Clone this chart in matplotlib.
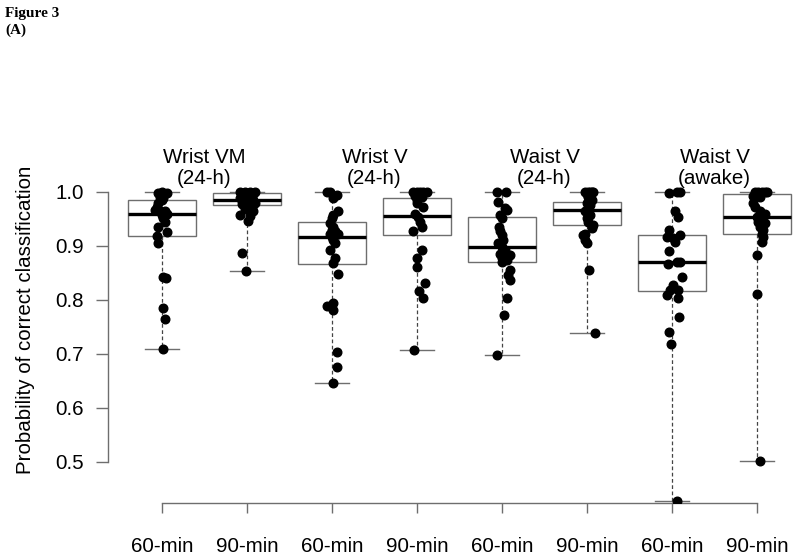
import matplotlib
matplotlib.use("Agg")
import matplotlib.pyplot as plt

# group labels
tick_labels = ["60-min", "90-min"] * 4
panel_titles = ["Wrist VM\n(24-h)", "Wrist V\n(24-h)", "Waist V\n(24-h)", "Waist V\n(awake)"]

# box statistics (R style hinges)
box_lo = [0.709, 0.854, 0.647, 0.707, 0.698, 0.739, 0.428, 0.501]
box_q1 = [0.919, 0.975, 0.866, 0.921, 0.871, 0.939, 0.817, 0.922]
box_med = [0.959, 0.986, 0.916, 0.955, 0.899, 0.967, 0.871, 0.954]
box_q3 = [0.985, 0.998, 0.944, 0.989, 0.953, 0.982, 0.920, 0.996]
box_hi = [1.0, 1.0, 1.0, 1.0, 1.0, 1.0, 1.0, 1.0]

# individual subjects (value, horizontal jitter)
g1_vals = [1.0, .998, .998, .994, .991, .988, .985, .979, .973, .967, .964, .964, .960,
           .957, .951, .945, .936, .925, .919, .905, .843, .841, .786, .764, .709]
g1_jit = [-.004, -.043, .055, .016, -.02, .016, -.004, -.043, -.06, -.08, -.02, .035, .055,
          -.004, .016, .035, -.043, .055, -.06, -.043, .008, .05, .016, .035, .016]
g2_vals = [1.0, 1.0, 1.0, 1.0, .998, .996, .996, .993, .99, .988, .986, .986, .984,
           .982, .98, .978, .976, .972, .968, .965, .958, .955, .946, .887, .854]
g2_jit = [-.082, -.024, .035, .094, -.063, -.004, .075, -.043, .035, -.082, -.004, .075, -.043,
          .035, .094, -.063, .016, .055, -.024, .075, -.082, .035, .016, -.063, -.012]
g3_vals = [1.0, 1.0, .994, .988, .964, .957, .951, .942, .936, .930, .927, .923, .923,
           .917, .911, .905, .893, .877, .868, .849, .794, .788, .781, .704, .676, .647]
g3_jit = [-.063, -.024, .055, .016, .075, .016, -.004, -.024, .016, -.004, .035, -.024, .075,
          -.004, .016, .035, -.024, .035, .016, .075, .016, -.063, .016, .055, .055, .016]
g4_vals = [1.0, 1.0, 1.0, 1.0, 1.0, .996, .993, .99, .985, .979, .973, .960,
           .954, .945, .936, .927, .893, .877, .861, .832, .817, .803, .707]
g4_jit = [-.043, -.004, .035, .075, .114, .016, -.024, .055, -.004, -.004, .075, -.024,
          .016, .035, .055, -.043, .055, -.004, -.004, .094, .027, .075, -.031]
g5_vals = [1.0, 1.0, .982, .970, .967, .957, .951, .936, .927, .920, .911, .905, .899,
           .893, .886, .883, .877, .874, .871, .856, .846, .837, .804, .772, .698]
g5_jit = [-.063, .047, -.051, .035, .055, -.024, -.004, -.031, -.024, -.004, .008, -.043, -.004,
          .035, -.024, .094, -.004, .055, -.004, .094, .075, .094, .063, .024, -.063]
g6_vals = [1.0, 1.0, 1.0, 1.0, 1.0, .996, .993, .99, .985, .979, .975, .970, .964,
           .957, .951, .945, .939, .933, .923, .920, .911, .905, .856, .739]
g6_jit = [-.024, .016, .055, .075, .035, -.004, .035, .016, .055, -.004, .035, .016, -.024,
          .035, -.004, .016, .075, .055, -.024, -.043, -.024, -.004, .027, .094]
g7_vals = [.998, 1.0, 1.0, .964, .953, .930, .920, .917, .914, .908, .891, .871,
           .871, .866, .842, .828, .819, .819, .809, .803, .769, .741, .719, .428]
g7_jit = [-.031, .055, .094, .035, .075, -.031, .094, -.055, .016, .035, -.031, .055,
          .094, -.043, .114, .016, -.024, .075, -.055, .075, .086, -.031, -.016, .055]
g8_vals = [1.0, 1.0, 1.0, 1.0, 1.0, .996, .993, .99, .979, .973, .964, .960,
           .954, .951, .945, .942, .936, .930, .923, .917, .908, .883, .812, .501]
g8_jit = [-.024, .016, .055, .094, .114, -.004, -.043, .035, -.043, -.024, .035, .094,
          -.004, .055, .016, .094, .035, .075, .055, .075, .055, -.004, .004, .035]

groups_vals = [g1_vals, g2_vals, g3_vals, g4_vals, g5_vals, g6_vals, g7_vals, g8_vals]
groups_jit = [g1_jit, g2_jit, g3_jit, g4_jit, g5_jit, g6_jit, g7_jit, g8_jit]

plt.rcParams["font.family"] = ["Liberation Sans", "DejaVu Sans"]
FS = 14.8
GRAY = "#6e6e6e"

fig = plt.figure(figsize=(8, 5.58), dpi=100)
# axes placed so the R-like layout lines up: y spine at x=108px, x spine at y=503px
ax = fig.add_axes([108 / 800, 55 / 558, 691.5 / 800, 338 / 558])

positions = list(range(1, 9))
stats = []
for i in range(8):
    stats.append(dict(med=box_med[i], q1=box_q1[i], q3=box_q3[i],
                      whislo=box_lo[i], whishi=box_hi[i], fliers=[]))

ax.bxp(stats, positions=positions, widths=0.8, showfliers=False, patch_artist=True,
       boxprops=dict(facecolor="white", edgecolor=GRAY, linewidth=1.0),
       medianprops=dict(color="black", linewidth=2.4),
       whiskerprops=dict(color="#444444", linewidth=0.9, linestyle=(0, (3, 2))),
       capprops=dict(color=GRAY, linewidth=1.0), capwidths=0.4)

for pos, vals, jit in zip(positions, groups_vals, groups_jit):
    xs = [pos + j for j in jit]
    ax.plot(xs, vals, "o", color="black", ms=6.2, mec="black", zorder=5)

for k, title in enumerate(panel_titles):
    ax.text(1.5 + 2 * k, 1.045, title, ha="center", va="center", fontsize=FS,
            linespacing=1.15, clip_on=False)

ax.set_xlim(0.365, 8.5)
ax.set_ylim(0.424, 1.05)

for side in ["top", "right"]:
    ax.spines[side].set_visible(False)
for side in ["left", "bottom"]:
    ax.spines[side].set_color(GRAY)
    ax.spines[side].set_linewidth(1.0)
ax.spines["left"].set_bounds(0.5, 1.0)
ax.spines["bottom"].set_bounds(1, 8)

ax.set_yticks([0.5, 0.6, 0.7, 0.8, 0.9, 1.0])
ax.set_yticklabels(["0.5", "0.6", "0.7", "0.8", "0.9", "1.0"])
ax.set_xticks(positions)
ax.set_xticklabels(tick_labels)
ax.tick_params(axis="y", length=8.5, width=1.0, color=GRAY, labelsize=FS, pad=9)
ax.tick_params(axis="x", length=7.5, width=1.0, color=GRAY, labelsize=FS, pad=17)

ax.set_ylabel("Probability of correct classification", fontsize=FS)
ax.yaxis.set_label_coords(35 / 800, 1 - 320 / 558, transform=fig.transFigure)

fig.text(5 / 800, 1 - 17 / 558, "Figure 3", fontsize=11, fontweight="bold",
         family=["Liberation Serif", "DejaVu Serif"], va="baseline")
fig.text(5 / 800, 1 - 34 / 558, "(A)", fontsize=11, fontweight="bold",
         family=["Liberation Serif", "DejaVu Serif"], va="baseline")

fig.savefig("out.png", dpi=100)
